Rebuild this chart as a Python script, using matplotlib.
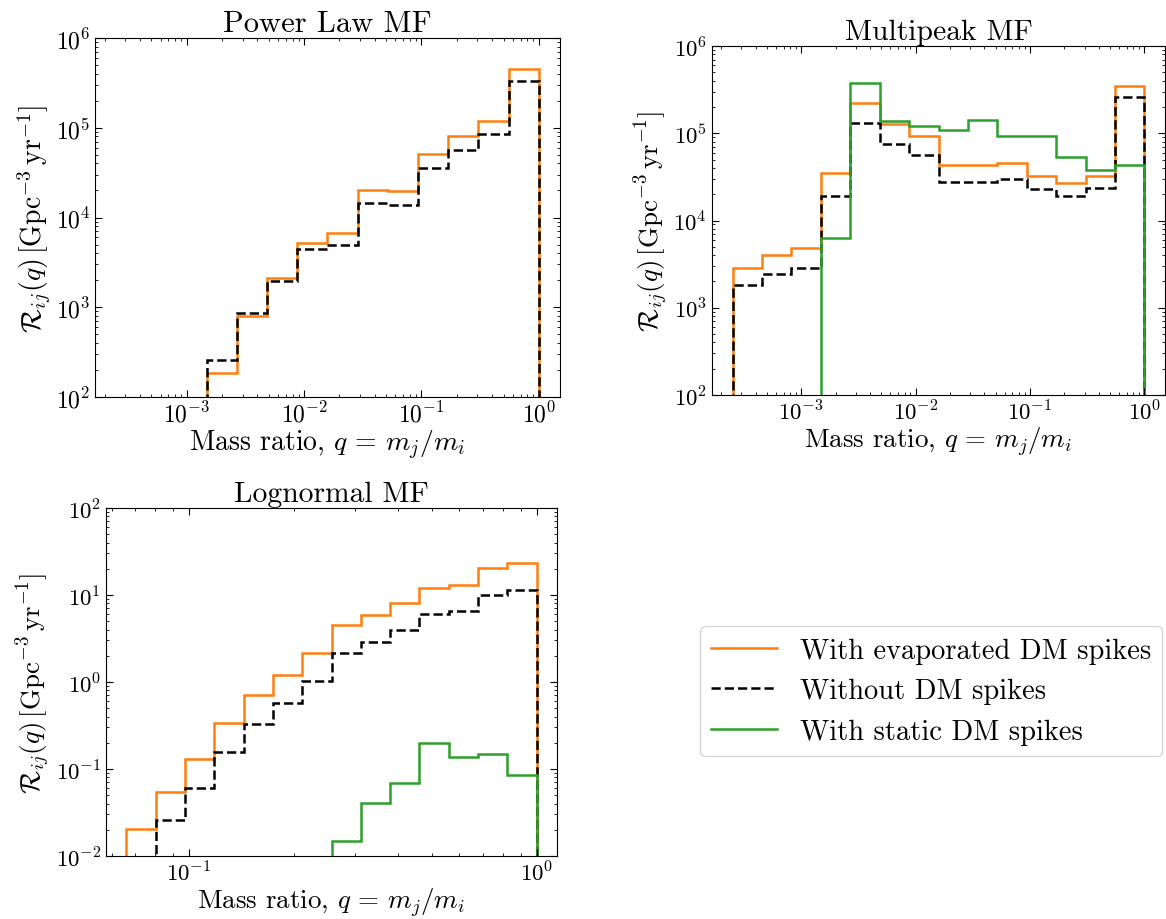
import numpy as np
import matplotlib.pyplot as plt

plt.rcParams['font.family'] = 'serif'
plt.rcParams['font.serif'] = ['cmr10']
plt.rcParams['mathtext.fontset'] = 'cm'
plt.rcParams['axes.formatter.use_mathtext'] = True
plt.rcParams['axes.unicode_minus'] = False

# bin edges (log10 q)
edges_wide = np.logspace(-3.6, 0, 15)
edges_ln = np.logspace(-1.18, 0, 15)

# Power law MF
pl_evap = [0, 0, 0, 187, 789, 2115, 5240, 6650, 20100, 19600, 50700, 81900, 119000, 455000]
pl_none = [0, 0, 0, 259, 859, 1955, 4450, 4930, 14400, 13700, 35400, 57100, 84200, 328000]

# Multipeak MF
mp_evap = [2857, 3990, 4840, 34750, 224000, 127600, 92200, 43600, 42900, 45600, 32700, 27200, 32100, 345000]
mp_none = [1824, 2417, 2830, 19100, 130000, 74600, 55800, 27600, 27860, 30150, 22700, 19100, 23800, 262000]
mp_static = [0, 0, 0, 6360, 373000, 138000, 121000, 109000, 143000, 93800, 93000, 54000, 37600, 43300]

# Lognormal MF
ln_evap = [0.0207, 0.0546, 0.129, 0.336, 0.706, 1.2, 2.15, 4.5, 5.93, 8.15, 12.1, 13.0, 20.6, 23.1]
ln_none = [0, 0.0257, 0.061, 0.158, 0.333, 0.571, 1.03, 2.15, 2.9, 3.98, 6.04, 6.48, 10.0, 11.4]
ln_static = [0, 0, 0, 0, 0, 0, 0, 0.0149, 0.0411, 0.0685, 0.198, 0.138, 0.147, 0.0855]

c_evap = '#ff7f0e'
c_static = '#2ca02c'

W, H = 1166, 920
fig = plt.figure(figsize=(W/100, H/100), dpi=100)

def box(x0, y0, x1, y1):
    return [x0/W, 1 - y1/H, (x1 - x0)/W, (y1 - y0)/H]

ax1 = fig.add_axes(box(95, 39, 560, 398))
ax2 = fig.add_axes(box(712, 47, 1165, 396))
ax3 = fig.add_axes(box(106, 509, 557, 857))

# (axes, title, edges, evaporated, none, static, ylim, text scale)
panels = [
    (ax1, 'Power Law MF', edges_wide, pl_evap, pl_none, None, (1e2, 1e6), 1.0),
    (ax2, 'Multipeak MF', edges_wide, mp_evap, mp_none, mp_static, (1e2, 1e6), 0.97),
    (ax3, 'Lognormal MF', edges_ln, ln_evap, ln_none, ln_static, (1e-2, 1e2), 0.97),
]

for ax, title, edges, evap, none, static, ylim, s in panels:
    ax.set_xscale('log')
    ax.set_yscale('log')
    ax.stairs(evap, edges, color=c_evap, lw=1.8, label='With evaporated DM spikes')
    ax.stairs(none, edges, color='k', lw=1.8, ls='--', label='Without DM spikes')
    if static is not None:
        ax.stairs(static, edges, color=c_static, lw=1.8, label='With static DM spikes')
    ax.set_ylim(ylim)
    ax.set_title(title, fontsize=22*s, pad=5)
    ax.set_xlabel(r'Mass ratio, $q\,=\,m_j/m_i$', fontsize=20*s, labelpad=1)
    ax.set_ylabel(r'$\mathcal{R}_{ij}(q)\,[\mathrm{Gpc}^{-3}\,\mathrm{yr}^{-1}]$', fontsize=20*s, labelpad=2)
    ax.tick_params(which='both', direction='in', top=True, right=True, labelsize=17*s)
    ax.tick_params(axis='x', pad=3)
    ax.tick_params(which='major', length=5)
    ax.tick_params(which='minor', length=2.5)

handles, labels = ax2.get_legend_handles_labels()
fig.legend(handles, labels, loc='upper left', bbox_to_anchor=(700/W, 1 - 627/H),
           fontsize=20.5, handlelength=2.3, borderaxespad=0)

plt.savefig('out.png', dpi=100)
